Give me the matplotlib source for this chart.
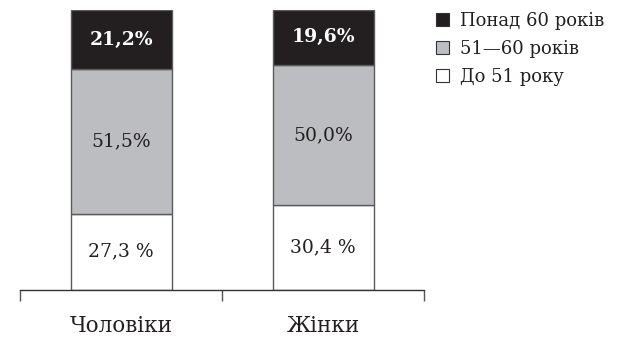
import numpy as np
import matplotlib.pyplot as plt
from matplotlib.patches import Patch

groups = ["Чоловіки", "Жінки"]
series_names = ["До 51 року", "51—60 років", "Понад 60 років"]
under_51 = [27.3, 30.4]
from_51_to_60 = [51.5, 50.0]
over_60 = [21.2, 19.6]
value_labels = [
    ["27,3 %", "30,4 %"],
    ["51,5%", "50,0%"],
    ["21,2%", "19,6%"],
]

colors = ["#ffffff", "#bcbdc0", "#231f20"]
text_colors = ["#231f20", "#231f20", "#ffffff"]
weights = ["normal", "normal", "bold"]

plt.rcParams['font.family'] = ['DejaVu Serif']

fig = plt.figure(figsize=(6.3, 3.39), dpi=100)
ax = fig.add_axes([20 / 630, 49 / 339, 404 / 630, 280 / 339])

x = np.arange(len(groups))
bottom = np.zeros(len(groups))
for vals, col, tcol, w, labels in zip([under_51, from_51_to_60, over_60],
                                      colors, text_colors, weights, value_labels):
    ax.bar(x, vals, width=0.5, bottom=bottom, color=col,
           edgecolor="#5a5a5a", linewidth=1.0)
    for xi, b, v, lab in zip(x, bottom, vals, labels):
        ax.text(xi, b + v / 2, lab, ha="center", va="center",
                color=tcol, fontsize=13.5, fontweight=w)
    bottom += np.array(vals)

ax.set_xlim(-0.5, 1.5)
ax.set_ylim(0, 100)

for s in ["top", "right", "left"]:
    ax.spines[s].set_visible(False)
ax.spines["bottom"].set_color("#333333")
ax.spines["bottom"].set_linewidth(1.0)

ax.set_yticks([])
ax.set_xticks(x)
ax.set_xticklabels(groups, fontsize=15.5, color="#231f20")
ax.tick_params(axis="x", which="major", length=0, pad=18)
ax.set_xticks([-0.5, 0.5, 1.5], minor=True)
ax.tick_params(axis="x", which="minor", length=8, width=1.0,
               color="#555555", direction="out")

handles = [Patch(facecolor=c, edgecolor="#333333", linewidth=0.8)
           for c in colors[::-1]]
fig.legend(handles, series_names[::-1], loc="upper left",
           bbox_to_anchor=(424 / 630, 1.0), frameon=False,
           fontsize=13, handlelength=0.75, handleheight=0.75,
           handletextpad=0.6, labelspacing=0.56, borderaxespad=0.25,
           labelcolor="#231f20")

fig.savefig("out.png", dpi=100)
